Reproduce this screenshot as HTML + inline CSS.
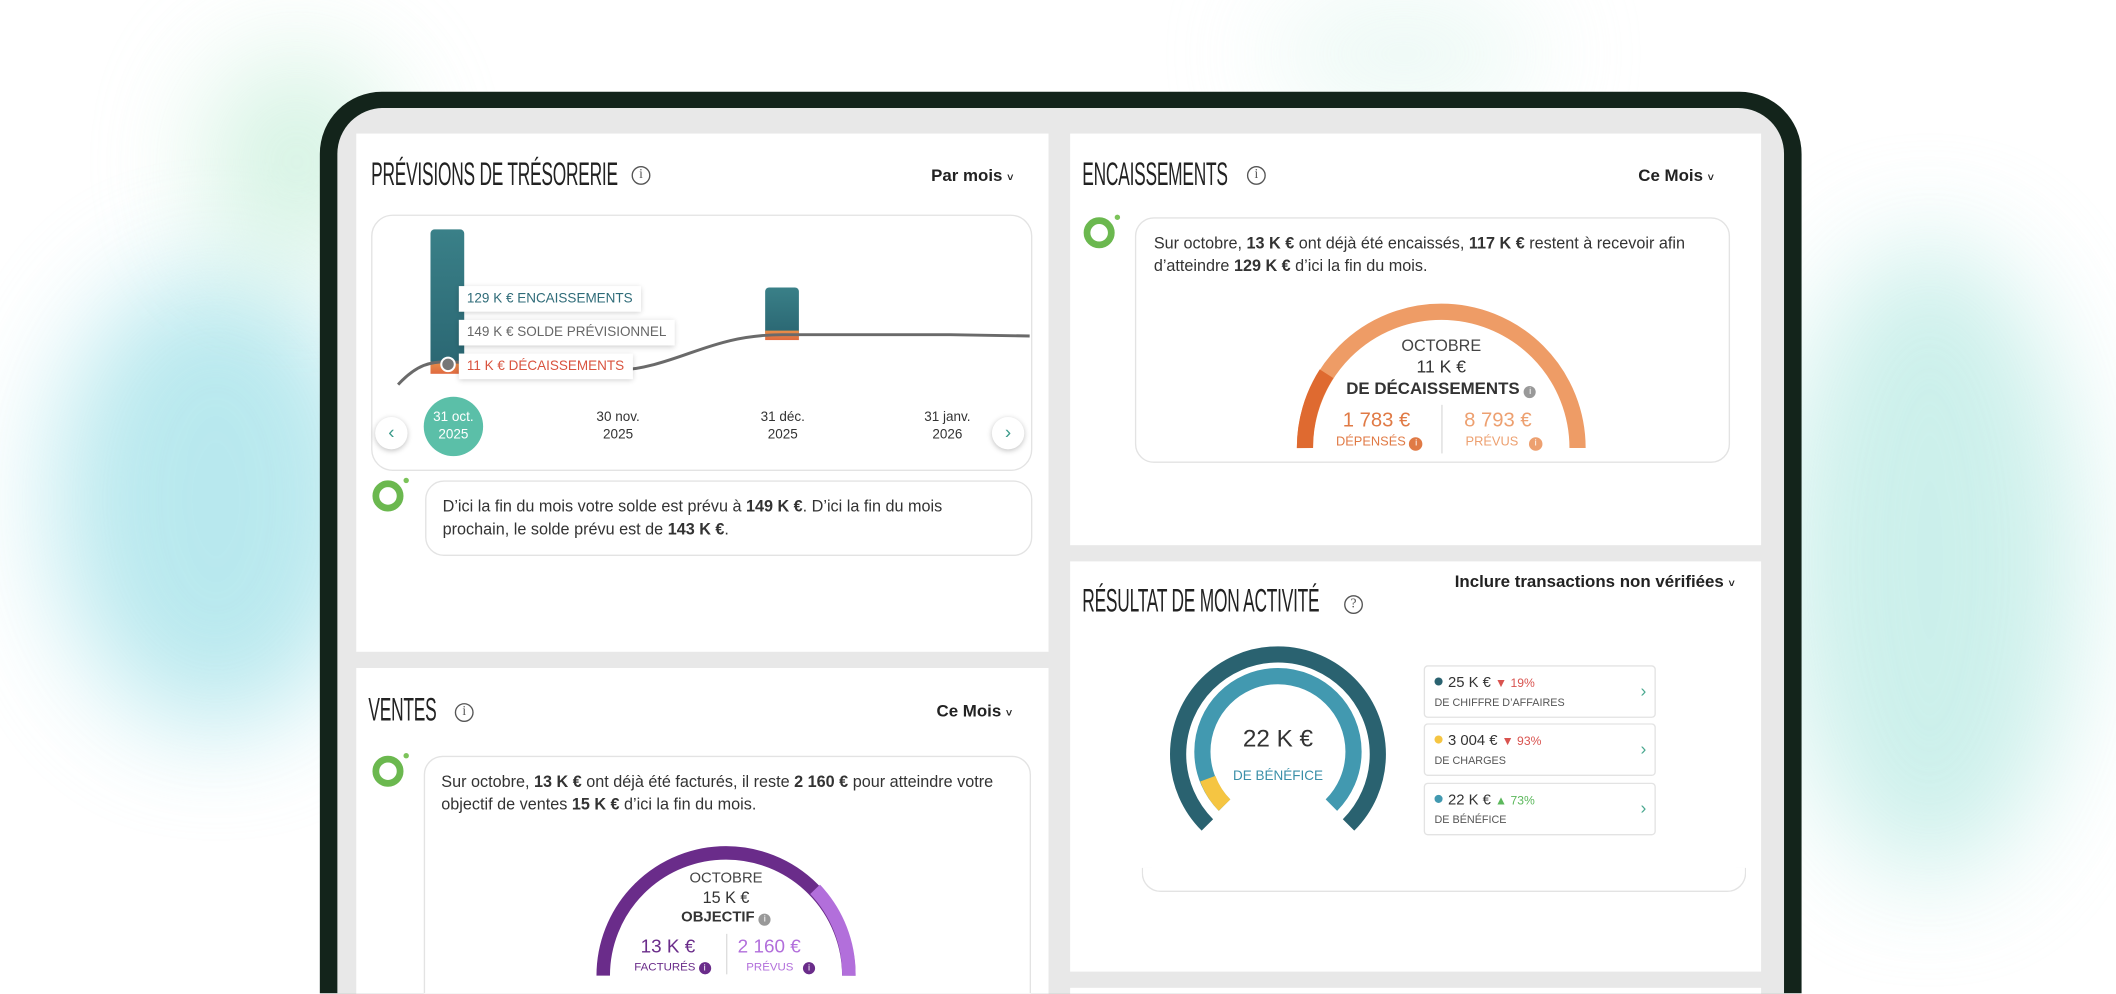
<!DOCTYPE html>
<html><head><meta charset="utf-8"><style>
html,body{margin:0;padding:0;width:2116px;height:994px;overflow:hidden;background:#fff;font-family:"Liberation Sans",sans-serif;}
#s{position:absolute;left:0;top:0;width:1568px;height:736px;transform:scale(1.34949);transform-origin:0 0;overflow:hidden;}
.a{position:absolute;}
.blob{position:absolute;border-radius:50%;filter:blur(40px);}
.panel{position:absolute;background:#fff;}
.title{position:absolute;font-size:24px;color:#222;transform:scaleX(0.535);transform-origin:0 0;white-space:nowrap;letter-spacing:-0.3px}
.info{position:absolute;width:12px;height:12px;border:1px solid #555;border-radius:50%;font-size:10px;line-height:12px;text-align:center;color:#555;font-family:"Liberation Serif",serif}
.dd{position:absolute;font-size:12.5px;font-weight:bold;color:#222;white-space:nowrap}
.txt{font-size:12px;color:#333;line-height:17px}
.bub{position:absolute;border:1px solid #e3e3e3;border-radius:14px;background:#fff}
.av{position:absolute;width:13px;height:13px;border:5px solid #6bb84f;border-radius:50%;}
.av:after{content:"";position:absolute;right:-9px;top:-7px;width:4px;height:4px;border-radius:50%;background:#7cc35a}
.tip{position:absolute;background:#fff;box-shadow:0 1px 4px rgba(0,0,0,.2);font-size:10px;padding:0 6px;height:19px;line-height:19px;white-space:nowrap}
.dt{position:absolute;font-size:10px;color:#333;text-align:center;width:60px;line-height:13px}
.nav{position:absolute;width:24px;height:24px;border-radius:50%;background:#fff;box-shadow:0 1px 4px rgba(0,0,0,.25);color:#3a9a8a;font-size:14px;text-align:center;line-height:22px}
.card{position:absolute;left:1055px;width:170px;height:37px;border:1px solid #e3e3e3;border-radius:3px;background:#fff}
.card .v{position:absolute;left:7px;top:6px;font-size:11px;color:#333;white-space:nowrap}
.card .l{position:absolute;left:7px;top:22px;font-size:8px;color:#555;white-space:nowrap}
.card .ch{position:absolute;right:6px;top:10px;color:#4aa88f;font-size:13px}
.dot{display:inline-block;width:6px;height:6px;border-radius:50%;margin-right:4px;vertical-align:1px}
</style></head><body><div id="s">
<div class="blob" style="left:40px;top:200px;width:240px;height:340px;background:#a7e3ea;opacity:.8"></div>
<div class="blob" style="left:150px;top:40px;width:140px;height:160px;background:#c4eed8;opacity:.7"></div>
<div class="blob" style="left:1320px;top:180px;width:220px;height:470px;background:#bfece6;opacity:.8"></div>
<div class="blob" style="left:940px;top:0px;width:200px;height:80px;background:#dff5ee;opacity:.7"></div>

<div class="a" style="left:237px;top:68px;width:1098px;height:720px;background:#13241b;border-radius:46px"></div>
<div class="a" style="left:250px;top:80px;width:1072px;height:700px;background:#e8e8e8;border-radius:34px"></div>

<!-- Panel 1 -->
<div class="panel" style="left:264px;top:99px;width:513px;height:384px"></div>
<div class="title" style="left:275px;top:116px">PRÉVISIONS DE TRÉSORERIE</div>
<div class="info" style="left:468px;top:123px">i</div>
<div class="dd" style="left:690px;top:123px">Par mois <span style="font-size:8px">˅</span></div>
<div class="bub" style="left:275px;top:159px;width:488px;height:188px;border-radius:16px"></div>
<svg class="a" style="left:264px;top:150px" width="513" height="200">
<defs><linearGradient id="g1" x1="0" y1="0" x2="0" y2="1"><stop offset="0" stop-color="#3a8088"/><stop offset="1" stop-color="#2a6672"/></linearGradient>
<linearGradient id="g2" x1="0" y1="0" x2="0" y2="1"><stop offset="0" stop-color="#e8904a"/><stop offset="1" stop-color="#e06a40"/></linearGradient></defs>
<rect x="55" y="20" width="25" height="105" rx="3" fill="url(#g1)"/>
<rect x="55" y="118" width="25" height="9" fill="url(#g2)"/>
<rect x="303" y="63" width="25" height="36" rx="3" fill="url(#g1)"/>
<rect x="303" y="95" width="25" height="7" fill="url(#g2)"/>
<rect x="190" y="122" width="13" height="7" fill="url(#g2)"/>
<path d="M31 135 C45 120 55 118 68 118 L190 125 C240 122 260 98 316 98 L440 98 L499 99" stroke="#6a6a6a" stroke-width="2.2" fill="none"/>
<circle cx="68" cy="120" r="5" fill="#777" stroke="#fff" stroke-width="1.5"/>
</svg>
<div class="tip" style="left:340px;top:212px;color:#2e6b78">129 K € ENCAISSEMENTS</div>
<div class="tip" style="left:340px;top:237px;color:#666">149 K € SOLDE PRÉVISIONNEL</div>
<div class="tip" style="left:340px;top:262px;color:#d9533f">11 K € DÉCAISSEMENTS</div>
<div class="a" style="left:314px;top:294px;width:44px;height:44px;border-radius:50%;background:#5bbfa8"></div>
<div class="dt" style="left:306px;top:303px;color:#fff">31 oct.<br>2025</div>
<div class="dt" style="left:428px;top:303px">30 nov.<br>2025</div>
<div class="dt" style="left:550px;top:303px">31 déc.<br>2025</div>
<div class="dt" style="left:672px;top:303px">31 janv.<br>2026</div>
<div class="nav" style="left:278px;top:309px">‹</div>
<div class="nav" style="left:735px;top:309px">›</div>
<div class="av" style="left:276px;top:356px"></div>
<div class="bub" style="left:315px;top:356px;width:448px;height:54px"></div>
<div class="a txt" style="left:328px;top:367px;width:420px">D’ici la fin du mois votre solde est prévu à <b>149 K €</b>. D’ici la fin du mois prochain, le solde prévu est de <b>143 K €</b>.</div>

<!-- Panel Encaissements -->
<div class="panel" style="left:793px;top:99px;width:512px;height:305px"></div>
<div class="title" style="left:802px;top:116px">ENCAISSEMENTS</div>
<div class="info" style="left:924px;top:123px">i</div>
<div class="dd" style="left:1214px;top:123px">Ce Mois <span style="font-size:8px">˅</span></div>
<div class="av" style="left:803px;top:161px"></div>
<div class="bub" style="left:841px;top:161px;width:439px;height:180px"></div>
<div class="a txt" style="left:855px;top:172px;width:420px">Sur octobre, <b>13 K €</b> ont déjà été encaissés, <b>117 K €</b> restent à recevoir afin d’atteindre <b>129 K €</b> d’ici la fin du mois.</div>
<svg class="a" style="left:950px;top:215px" width="240" height="120">
<path d="M17 117 A101 101 0 0 1 219 117" stroke="#ee9c66" stroke-width="12" fill="none"/>
<path d="M17 117 A101 101 0 0 1 33 62" stroke="#df6a30" stroke-width="12" fill="none"/>
</svg>
<div class="a" style="left:968px;top:248px;width:200px;text-align:center;font-size:12px;color:#444;line-height:16px">OCTOBRE<br><span style="font-size:13px;color:#333">11 K €</span><br><b style="font-size:12.5px;color:#333">DE DÉCAISSEMENTS</b> <span style="display:inline-block;width:9px;height:9px;border-radius:50%;background:#999;color:#fff;font-size:7px;line-height:9px">i</span></div>
<div class="a" style="left:1068px;top:300px;width:1px;height:36px;background:#ddd"></div>
<div class="a" style="left:985px;top:303px;width:70px;text-align:center;font-size:15px;color:#e07a45">1 783 €</div>
<div class="a" style="left:1075px;top:303px;width:70px;text-align:center;font-size:15px;color:#eda070">8 793 €</div>
<div class="a" style="left:990px;top:322px;font-size:9.5px;color:#e07a45">DÉPENSÉS <span style="display:inline-block;width:10px;height:10px;border-radius:50%;background:#e07a45;color:#fff;font-size:7px;line-height:10px;text-align:center">i</span></div>
<div class="a" style="left:1086px;top:322px;font-size:9.5px;color:#eda070">PRÉVUS &nbsp;&nbsp;<span style="display:inline-block;width:10px;height:10px;border-radius:50%;background:#eda070;color:#fff;font-size:7px;line-height:10px;text-align:center">i</span></div>

<!-- Panel Résultat -->
<div class="panel" style="left:793px;top:416px;width:512px;height:304px"></div>
<div class="title" style="left:802px;top:432px">RÉSULTAT DE MON ACTIVITÉ</div>
<div class="info" style="left:996px;top:441px">?</div>
<div class="dd" style="left:1078px;top:424px">Inclure transactions non vérifiées <span style="font-size:8px">˅</span></div>
<div class="a" style="left:846px;top:643px;width:446px;height:17px;border:1px solid #e3e3e3;border-top:none;border-radius:0 0 14px 14px"></div>
<svg class="a" style="left:862px;top:472px" width="170" height="170">
<path d="M32.7 139.3 A74 74 0 1 1 137.3 139.3" stroke="#2a6270" stroke-width="12" fill="none"/>
<path d="M45.4 124.6 A56 56 0 1 1 124.6 124.6" stroke="#4299b0" stroke-width="12" fill="none"/>
<path d="M45.4 124.6 A56 56 0 0 1 33 105" stroke="#f5c542" stroke-width="12" fill="none"/>
</svg>
<div class="a" style="left:897px;top:537px;width:100px;text-align:center;font-size:18px;color:#333">22 K €</div>
<div class="a" style="left:897px;top:570px;width:100px;text-align:center;font-size:10px;color:#3a8fa8">DE BÉNÉFICE</div>
<div class="card" style="top:493px"><div class="v"><span class="dot" style="background:#2a6270"></span>25 K € <span style="color:#d9534f;font-size:9px">▼ 19%</span></div><div class="l">DE CHIFFRE D’AFFAIRES</div><div class="ch">›</div></div>
<div class="card" style="top:536px"><div class="v"><span class="dot" style="background:#f5c542"></span>3 004 € <span style="color:#d9534f;font-size:9px">▼ 93%</span></div><div class="l">DE CHARGES</div><div class="ch">›</div></div>
<div class="card" style="top:580px"><div class="v"><span class="dot" style="background:#4299b0"></span>22 K € <span style="color:#5cb85c;font-size:9px">▲ 73%</span></div><div class="l">DE BÉNÉFICE</div><div class="ch">›</div></div>
<div class="panel" style="left:793px;top:732px;width:512px;height:20px"></div>

<!-- Panel Ventes -->
<div class="panel" style="left:264px;top:495px;width:513px;height:260px"></div>
<div class="title" style="left:273px;top:513px">VENTES</div>
<div class="info" style="left:337px;top:521px">i</div>
<div class="dd" style="left:694px;top:520px">Ce Mois <span style="font-size:8px">˅</span></div>
<div class="av" style="left:276px;top:560px"></div>
<div class="bub" style="left:314px;top:560px;width:448px;height:200px"></div>
<div class="a txt" style="left:327px;top:571px;width:425px">Sur octobre, <b>13 K €</b> ont déjà été facturés, il reste <b>2 160 €</b> pour atteindre votre objectif de ventes <b>15 K €</b> d’ici la fin du mois.</div>
<svg class="a" style="left:430px;top:615px" width="220" height="120">
<path d="M17 108 A91 91 0 0 1 199 108" stroke="#6a2c8a" stroke-width="10" fill="none"/>
<path d="M174 44 A91 91 0 0 1 199 108" stroke="#b26fdb" stroke-width="10" fill="none"/>
</svg>
<div class="a" style="left:438px;top:644px;width:200px;text-align:center;font-size:11px;color:#444;line-height:14px">OCTOBRE<br><span style="font-size:12px;color:#333">15 K €</span><br><b style="font-size:11px;color:#333">OBJECTIF</b> <span style="display:inline-block;width:9px;height:9px;border-radius:50%;background:#999;color:#fff;font-size:7px;line-height:9px;text-align:center">i</span></div>
<div class="a" style="left:538px;top:692px;width:1px;height:30px;background:#ddd"></div>
<div class="a" style="left:460px;top:693px;width:70px;text-align:center;font-size:14px;color:#6a2c8a">13 K €</div>
<div class="a" style="left:540px;top:693px;width:60px;text-align:center;font-size:14px;color:#b26fdb">2 160 €</div>
<div class="a" style="left:470px;top:711px;font-size:8.5px;color:#6a2c8a">FACTURÉS <span style="display:inline-block;width:9px;height:9px;border-radius:50%;background:#6a2c8a;color:#fff;font-size:7px;line-height:9px;text-align:center">i</span></div>
<div class="a" style="left:553px;top:711px;font-size:8.5px;color:#b26fdb">PRÉVUS &nbsp;&nbsp;<span style="display:inline-block;width:9px;height:9px;border-radius:50%;background:#6a2c8a;color:#fff;font-size:7px;line-height:9px;text-align:center">i</span></div>
</div></body></html>
